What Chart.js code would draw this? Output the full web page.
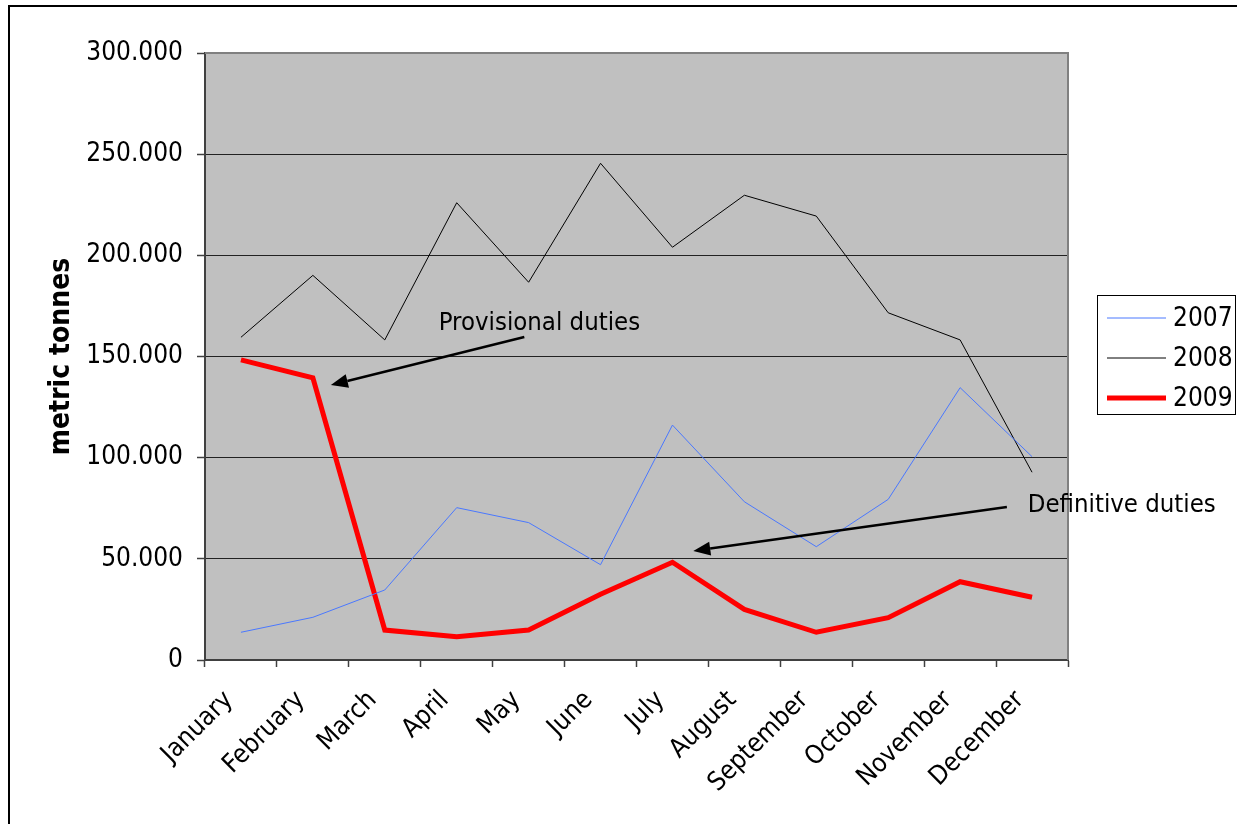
<!DOCTYPE html>
<html>
<head>
<meta charset="utf-8">
<style>
  html, body { margin: 0; padding: 0; background: #fff; }
  #wrap { position: relative; width: 1237px; height: 824px; }
</style>
<script src="https://cdn.jsdelivr.net/npm/chart.js@4/dist/chart.umd.min.js"></script>
</head>
<body>
<div id="wrap"><canvas id="c" width="1237" height="824"></canvas></div>
<script>
// Monthly imports, metric tonnes
const months = ['January', 'February', 'March', 'April', 'May', 'June', 'July',
  'August', 'September', 'October', 'November', 'December'];
const imports2007 = [13700, 21100, 34600, 75300, 67900, 47100, 116100, 78200, 56000, 79400, 134600, 100500];
const imports2008 = [159500, 190100, 158200, 226000, 186700, 245500, 204000, 229700, 219400, 171600, 158200, 92800];
const imports2009 = [148300, 139500, 14800, 11500, 14800, 32500, 48300, 25000, 13700, 20900, 38700, 31000];
const seriesNames = ['2007', '2008', '2009'];

// Callouts, placed in data space: [category index, tonnes]
const notes = [
  { text: 'Provisional duties', textAt: [2.75, 166600], from: [3.94, 159600], to: [1.25, 135900] },
  { text: 'Definitive duties', textAt: [10.94, 76600], from: [10.65, 75600], to: [6.29, 53900] }
];

const FONT = '"DejaVu Sans Condensed", "DejaVu Sans", sans-serif';

function fmtTonnes(v) {
  if (v === 0) return '0';
  return (v / 1000).toFixed(3);
}

const frame = {
  id: 'frame',
  beforeDraw(chart) {
    const { ctx, chartArea: a } = chart;
    ctx.save();
    // outer frame
    ctx.strokeStyle = '#000';
    ctx.lineWidth = 2;
    ctx.beginPath();
    ctx.moveTo(9, 830);
    ctx.lineTo(9, 6);
    ctx.lineTo(1240, 6);
    ctx.stroke();
    // plot background
    ctx.fillStyle = '#c0c0c0';
    ctx.fillRect(a.left, a.top, a.right - a.left, a.bottom - a.top);
    ctx.restore();
  },
  afterDraw(chart) {
    const { ctx, chartArea: a } = chart;
    ctx.save();
    // top and right plot edges
    ctx.strokeStyle = '#808080';
    ctx.lineWidth = 2;
    ctx.beginPath();
    ctx.moveTo(a.left, a.top);
    ctx.lineTo(a.right, a.top);
    ctx.lineTo(a.right, a.bottom);
    ctx.stroke();

    // callouts
    const xs = chart.scales.x, ys = chart.scales.y;
    const P = (p) => [xs.getPixelForValue(p[0]), ys.getPixelForValue(p[1])];
    ctx.fillStyle = '#000';
    ctx.strokeStyle = '#000';
    ctx.font = '25.5px ' + FONT;
    ctx.textBaseline = 'middle';
    ctx.textAlign = 'left';
    notes.forEach(n => {
      const [tx, ty] = P(n.textAt);
      ctx.fillText(n.text, tx, ty);
      const [x0, y0] = P(n.from);
      const [x1, y1] = P(n.to);
      const ang = Math.atan2(y1 - y0, x1 - x0);
      const headLen = 17, headW = 7;
      const bx = x1 - headLen * Math.cos(ang), by = y1 - headLen * Math.sin(ang);
      ctx.lineWidth = 2.5;
      ctx.beginPath();
      ctx.moveTo(x0, y0);
      ctx.lineTo(bx, by);
      ctx.stroke();
      ctx.beginPath();
      ctx.moveTo(x1, y1);
      ctx.lineTo(bx + headW * Math.sin(ang), by - headW * Math.cos(ang));
      ctx.lineTo(bx - headW * Math.sin(ang), by + headW * Math.cos(ang));
      ctx.closePath();
      ctx.fill();
    });

    // legend box
    const lx = 1097, ly = 295, lw = 139, lh = 120;
    ctx.fillStyle = '#fff';
    ctx.fillRect(lx, ly, lw, lh);
    ctx.strokeStyle = '#000';
    ctx.lineWidth = 1;
    ctx.strokeRect(lx + 0.5, ly + 0.5, lw - 1, lh - 1);
    ctx.font = '26px ' + FONT;
    ctx.textAlign = 'left';
    ctx.textBaseline = 'middle';
    chart.data.datasets.forEach((ds, i) => {
      const y = ly + 23 + i * 40;
      ctx.strokeStyle = ds.borderColor;
      ctx.lineWidth = ds.borderWidth;
      ctx.beginPath();
      ctx.moveTo(lx + 10, y);
      ctx.lineTo(lx + 69, y);
      ctx.stroke();
      ctx.fillStyle = '#000';
      ctx.fillText(ds.label, lx + 76, y + 1);
    });
    ctx.restore();
  }
};

new Chart(document.getElementById('c'), {
  type: 'line',
  data: {
    labels: months,
    datasets: [
      { label: seriesNames[0], data: imports2007, borderColor: '#4a78ff', borderWidth: 1 },
      { label: seriesNames[1], data: imports2008, borderColor: '#000000', borderWidth: 1 },
      { label: seriesNames[2], data: imports2009, borderColor: '#ff0000', borderWidth: 5 }
    ]
  },
  options: {
    responsive: false,
    animation: false,
    devicePixelRatio: 1,
    layout: { padding: { left: 0, top: 53, right: 169, bottom: 0 } },
    elements: {
      point: { radius: 0, hoverRadius: 0 },
      line: { tension: 0, borderJoinStyle: 'miter', borderCapStyle: 'butt' }
    },
    plugins: {
      legend: { display: false },
      tooltip: { enabled: false }
    },
    scales: {
      x: {
        offset: true,
        grid: {
          offset: true,
          drawOnChartArea: false,
          drawTicks: true,
          tickLength: 7,
          tickColor: '#404040',
          tickWidth: 1.5
        },
        border: { color: '#404040', width: 2 },
        ticks: {
          autoSkip: false,
          maxRotation: 45,
          minRotation: 45,
          padding: 18,
          labelOffset: -12,
          color: '#000',
          font: { family: FONT, size: 26 }
        },
        afterFit(scale) { scale.height = 164; }
      },
      y: {
        min: 0,
        max: 300000,
        ticks: {
          stepSize: 50000,
          color: '#000',
          padding: 14,
          font: { family: FONT, size: 26 },
          callback: (v) => fmtTonnes(v)
        },
        grid: {
          color: (c) => (c.tick && c.tick.value === 300000) ? '#808080' : '#222',
          lineWidth: 1,
          tickLength: 8,
          tickColor: '#404040',
          tickWidth: 1.5
        },
        border: { color: '#404040', width: 2 },
        title: {
          display: true,
          text: 'metric tonnes',
          color: '#000',
          font: { family: FONT, size: 28, weight: 'bold' },
          padding: { top: 45, bottom: 0 }
        },
        afterFit(scale) { scale.width = 205; }
      }
    }
  },
  plugins: [frame]
});
</script>
</body>
</html>
